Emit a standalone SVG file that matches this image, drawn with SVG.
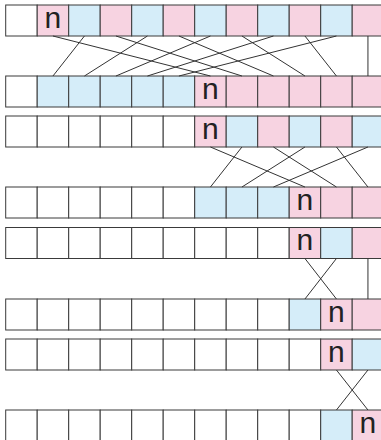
<svg xmlns="http://www.w3.org/2000/svg" width="381" height="440" viewBox="0 0 381 440">
<style>
.c{stroke:#3a3a3a;stroke-width:1}
.w{fill:#ffffff}
.p{fill:#f7d3e1}
.b{fill:#d5edf9}
text{font-family:"Liberation Sans",Arial,sans-serif;font-size:30px;fill:#222;text-anchor:middle}
#connectors line{stroke:#333;stroke-width:1}
</style>
<rect x="0" y="0" width="381" height="440" fill="#fff"/>
<g id="row1">
<rect class="c w" x="5.7" y="5" width="31.5" height="31"/>
<rect class="c p" x="37.2" y="5" width="31.5" height="31"/>
<rect class="c b" x="68.7" y="5" width="31.5" height="31"/>
<rect class="c p" x="100.2" y="5" width="31.5" height="31"/>
<rect class="c b" x="131.7" y="5" width="31.5" height="31"/>
<rect class="c p" x="163.2" y="5" width="31.5" height="31"/>
<rect class="c b" x="194.7" y="5" width="31.5" height="31"/>
<rect class="c p" x="226.2" y="5" width="31.5" height="31"/>
<rect class="c b" x="257.7" y="5" width="31.5" height="31"/>
<rect class="c p" x="289.2" y="5" width="31.5" height="31"/>
<rect class="c b" x="320.7" y="5" width="31.5" height="31"/>
<rect class="c p" x="352.2" y="5" width="31.5" height="31"/>
<text x="52.95" y="27.5">n</text>
</g>
<g id="row2">
<rect class="c w" x="5.7" y="76" width="31.5" height="31"/>
<rect class="c b" x="37.2" y="76" width="31.5" height="31"/>
<rect class="c b" x="68.7" y="76" width="31.5" height="31"/>
<rect class="c b" x="100.2" y="76" width="31.5" height="31"/>
<rect class="c b" x="131.7" y="76" width="31.5" height="31"/>
<rect class="c b" x="163.2" y="76" width="31.5" height="31"/>
<rect class="c p" x="194.7" y="76" width="31.5" height="31"/>
<rect class="c p" x="226.2" y="76" width="31.5" height="31"/>
<rect class="c p" x="257.7" y="76" width="31.5" height="31"/>
<rect class="c p" x="289.2" y="76" width="31.5" height="31"/>
<rect class="c p" x="320.7" y="76" width="31.5" height="31"/>
<rect class="c p" x="352.2" y="76" width="31.5" height="31"/>
<text x="210.45" y="98.5">n</text>
</g>
<g id="row3">
<rect class="c w" x="5.7" y="116" width="31.5" height="31"/>
<rect class="c w" x="37.2" y="116" width="31.5" height="31"/>
<rect class="c w" x="68.7" y="116" width="31.5" height="31"/>
<rect class="c w" x="100.2" y="116" width="31.5" height="31"/>
<rect class="c w" x="131.7" y="116" width="31.5" height="31"/>
<rect class="c w" x="163.2" y="116" width="31.5" height="31"/>
<rect class="c p" x="194.7" y="116" width="31.5" height="31"/>
<rect class="c b" x="226.2" y="116" width="31.5" height="31"/>
<rect class="c p" x="257.7" y="116" width="31.5" height="31"/>
<rect class="c b" x="289.2" y="116" width="31.5" height="31"/>
<rect class="c p" x="320.7" y="116" width="31.5" height="31"/>
<rect class="c b" x="352.2" y="116" width="31.5" height="31"/>
<text x="210.45" y="138.5">n</text>
</g>
<g id="row4">
<rect class="c w" x="5.7" y="187" width="31.5" height="31"/>
<rect class="c w" x="37.2" y="187" width="31.5" height="31"/>
<rect class="c w" x="68.7" y="187" width="31.5" height="31"/>
<rect class="c w" x="100.2" y="187" width="31.5" height="31"/>
<rect class="c w" x="131.7" y="187" width="31.5" height="31"/>
<rect class="c w" x="163.2" y="187" width="31.5" height="31"/>
<rect class="c b" x="194.7" y="187" width="31.5" height="31"/>
<rect class="c b" x="226.2" y="187" width="31.5" height="31"/>
<rect class="c b" x="257.7" y="187" width="31.5" height="31"/>
<rect class="c p" x="289.2" y="187" width="31.5" height="31"/>
<rect class="c p" x="320.7" y="187" width="31.5" height="31"/>
<rect class="c p" x="352.2" y="187" width="31.5" height="31"/>
<text x="304.95" y="209.5">n</text>
</g>
<g id="row5">
<rect class="c w" x="5.7" y="227.5" width="31.5" height="31"/>
<rect class="c w" x="37.2" y="227.5" width="31.5" height="31"/>
<rect class="c w" x="68.7" y="227.5" width="31.5" height="31"/>
<rect class="c w" x="100.2" y="227.5" width="31.5" height="31"/>
<rect class="c w" x="131.7" y="227.5" width="31.5" height="31"/>
<rect class="c w" x="163.2" y="227.5" width="31.5" height="31"/>
<rect class="c w" x="194.7" y="227.5" width="31.5" height="31"/>
<rect class="c w" x="226.2" y="227.5" width="31.5" height="31"/>
<rect class="c w" x="257.7" y="227.5" width="31.5" height="31"/>
<rect class="c p" x="289.2" y="227.5" width="31.5" height="31"/>
<rect class="c b" x="320.7" y="227.5" width="31.5" height="31"/>
<rect class="c p" x="352.2" y="227.5" width="31.5" height="31"/>
<text x="304.95" y="250">n</text>
</g>
<g id="row6">
<rect class="c w" x="5.7" y="299" width="31.5" height="31"/>
<rect class="c w" x="37.2" y="299" width="31.5" height="31"/>
<rect class="c w" x="68.7" y="299" width="31.5" height="31"/>
<rect class="c w" x="100.2" y="299" width="31.5" height="31"/>
<rect class="c w" x="131.7" y="299" width="31.5" height="31"/>
<rect class="c w" x="163.2" y="299" width="31.5" height="31"/>
<rect class="c w" x="194.7" y="299" width="31.5" height="31"/>
<rect class="c w" x="226.2" y="299" width="31.5" height="31"/>
<rect class="c w" x="257.7" y="299" width="31.5" height="31"/>
<rect class="c b" x="289.2" y="299" width="31.5" height="31"/>
<rect class="c p" x="320.7" y="299" width="31.5" height="31"/>
<rect class="c p" x="352.2" y="299" width="31.5" height="31"/>
<text x="336.45" y="321.5">n</text>
</g>
<g id="row7">
<rect class="c w" x="5.7" y="339" width="31.5" height="31"/>
<rect class="c w" x="37.2" y="339" width="31.5" height="31"/>
<rect class="c w" x="68.7" y="339" width="31.5" height="31"/>
<rect class="c w" x="100.2" y="339" width="31.5" height="31"/>
<rect class="c w" x="131.7" y="339" width="31.5" height="31"/>
<rect class="c w" x="163.2" y="339" width="31.5" height="31"/>
<rect class="c w" x="194.7" y="339" width="31.5" height="31"/>
<rect class="c w" x="226.2" y="339" width="31.5" height="31"/>
<rect class="c w" x="257.7" y="339" width="31.5" height="31"/>
<rect class="c w" x="289.2" y="339" width="31.5" height="31"/>
<rect class="c p" x="320.7" y="339" width="31.5" height="31"/>
<rect class="c b" x="352.2" y="339" width="31.5" height="31"/>
<text x="336.45" y="361.5">n</text>
</g>
<g id="row8">
<rect class="c w" x="5.7" y="410" width="31.5" height="31"/>
<rect class="c w" x="37.2" y="410" width="31.5" height="31"/>
<rect class="c w" x="68.7" y="410" width="31.5" height="31"/>
<rect class="c w" x="100.2" y="410" width="31.5" height="31"/>
<rect class="c w" x="131.7" y="410" width="31.5" height="31"/>
<rect class="c w" x="163.2" y="410" width="31.5" height="31"/>
<rect class="c w" x="194.7" y="410" width="31.5" height="31"/>
<rect class="c w" x="226.2" y="410" width="31.5" height="31"/>
<rect class="c w" x="257.7" y="410" width="31.5" height="31"/>
<rect class="c w" x="289.2" y="410" width="31.5" height="31"/>
<rect class="c b" x="320.7" y="410" width="31.5" height="31"/>
<rect class="c p" x="352.2" y="410" width="31.5" height="31"/>
<text x="367.95" y="432.5">n</text>
</g>
<g id="connectors">
<line x1="52.95" y1="36" x2="210.45" y2="76"/>
<line x1="84.45" y1="36" x2="52.95" y2="76"/>
<line x1="115.95" y1="36" x2="241.95" y2="76"/>
<line x1="147.45" y1="36" x2="84.45" y2="76"/>
<line x1="178.95" y1="36" x2="273.45" y2="76"/>
<line x1="210.45" y1="36" x2="115.95" y2="76"/>
<line x1="241.95" y1="36" x2="304.95" y2="76"/>
<line x1="273.45" y1="36" x2="147.45" y2="76"/>
<line x1="304.95" y1="36" x2="336.45" y2="76"/>
<line x1="336.45" y1="36" x2="178.95" y2="76"/>
<line x1="367.95" y1="36" x2="367.95" y2="76"/>
<line x1="210.45" y1="147" x2="304.95" y2="187"/>
<line x1="241.95" y1="147" x2="210.45" y2="187"/>
<line x1="273.45" y1="147" x2="336.45" y2="187"/>
<line x1="304.95" y1="147" x2="241.95" y2="187"/>
<line x1="336.45" y1="147" x2="367.95" y2="187"/>
<line x1="367.95" y1="147" x2="273.45" y2="187"/>
<line x1="304.95" y1="258.5" x2="336.45" y2="299"/>
<line x1="336.45" y1="258.5" x2="304.95" y2="299"/>
<line x1="367.95" y1="258.5" x2="367.95" y2="299"/>
<line x1="336.45" y1="370" x2="367.95" y2="410"/>
<line x1="367.95" y1="370" x2="336.45" y2="410"/>
</g>
</svg>
